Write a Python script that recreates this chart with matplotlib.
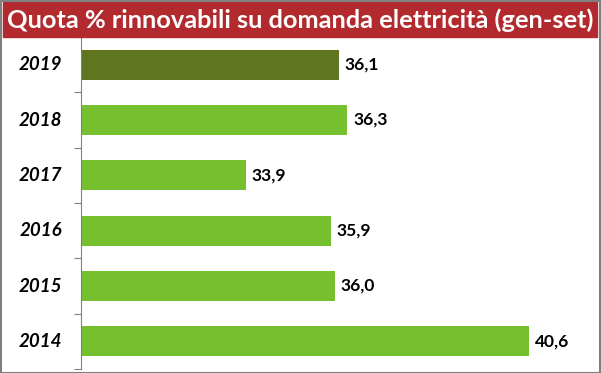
import matplotlib.pyplot as plt
from matplotlib.patches import Rectangle

years = ["2014", "2015", "2016", "2017", "2018", "2019"]
values = [40.6, 36.0, 35.9, 33.9, 36.3, 36.1]
labels = ["40,6", "36,0", "35,9", "33,9", "36,3", "36,1"]
colors = ["#76bf2f"] * 5 + ["#5f751f"]

title = "Quota % rinnovabili su domanda elettricità (gen-set)"

W, H = 601, 373
fig = plt.figure(figsize=(W / 100, H / 100), dpi=100)

# red title band and outer frame
fig.patches.append(Rectangle((3 / W, 1 - 37 / H), 594 / W, 35 / H,
                             transform=fig.transFigure, color="#b22a2e", zorder=0))
fig.patches.append(Rectangle((0.5 / W, 0.5 / H), (W - 1.5) / W, (H - 1.5) / H,
                             transform=fig.transFigure, fill=False,
                             edgecolor="#808080", linewidth=1.5, zorder=1))
fig.text(300 / W, 1 - 20 / H, title, color="white", fontsize=18.3,
         fontweight="bold", family="Lato", ha="center", va="center")

ax = fig.add_axes([81 / W, 4 / H, (597 - 81) / W, (369 - 37) / H])
pos = range(len(years))
ax.barh(pos, values, height=0.54, color=colors, left=0)
ax.set_xlim(30, 42.2)
ax.set_ylim(-0.5, len(years) - 0.5)

for p, v, lab in zip(pos, values, labels):
    ax.text(v + 0.13, p, lab, va="center", ha="left", fontsize=12.5,
            fontweight="bold", family="Lato")
    ax.text(-0.078, p, years[p], transform=ax.get_yaxis_transform(),
            va="center", ha="center", fontsize=13.5, fontweight="bold",
            style="italic", family="Lato")

ax.set_yticks([i - 0.5 for i in range(len(years) + 1)])
ax.set_yticklabels([])
ax.tick_params(axis="y", direction="out", length=5, color="#808080")
ax.set_xticks([])
for s in ["top", "right", "bottom"]:
    ax.spines[s].set_visible(False)
ax.spines["left"].set_color("#808080")

fig.savefig("out.png", dpi=100)
